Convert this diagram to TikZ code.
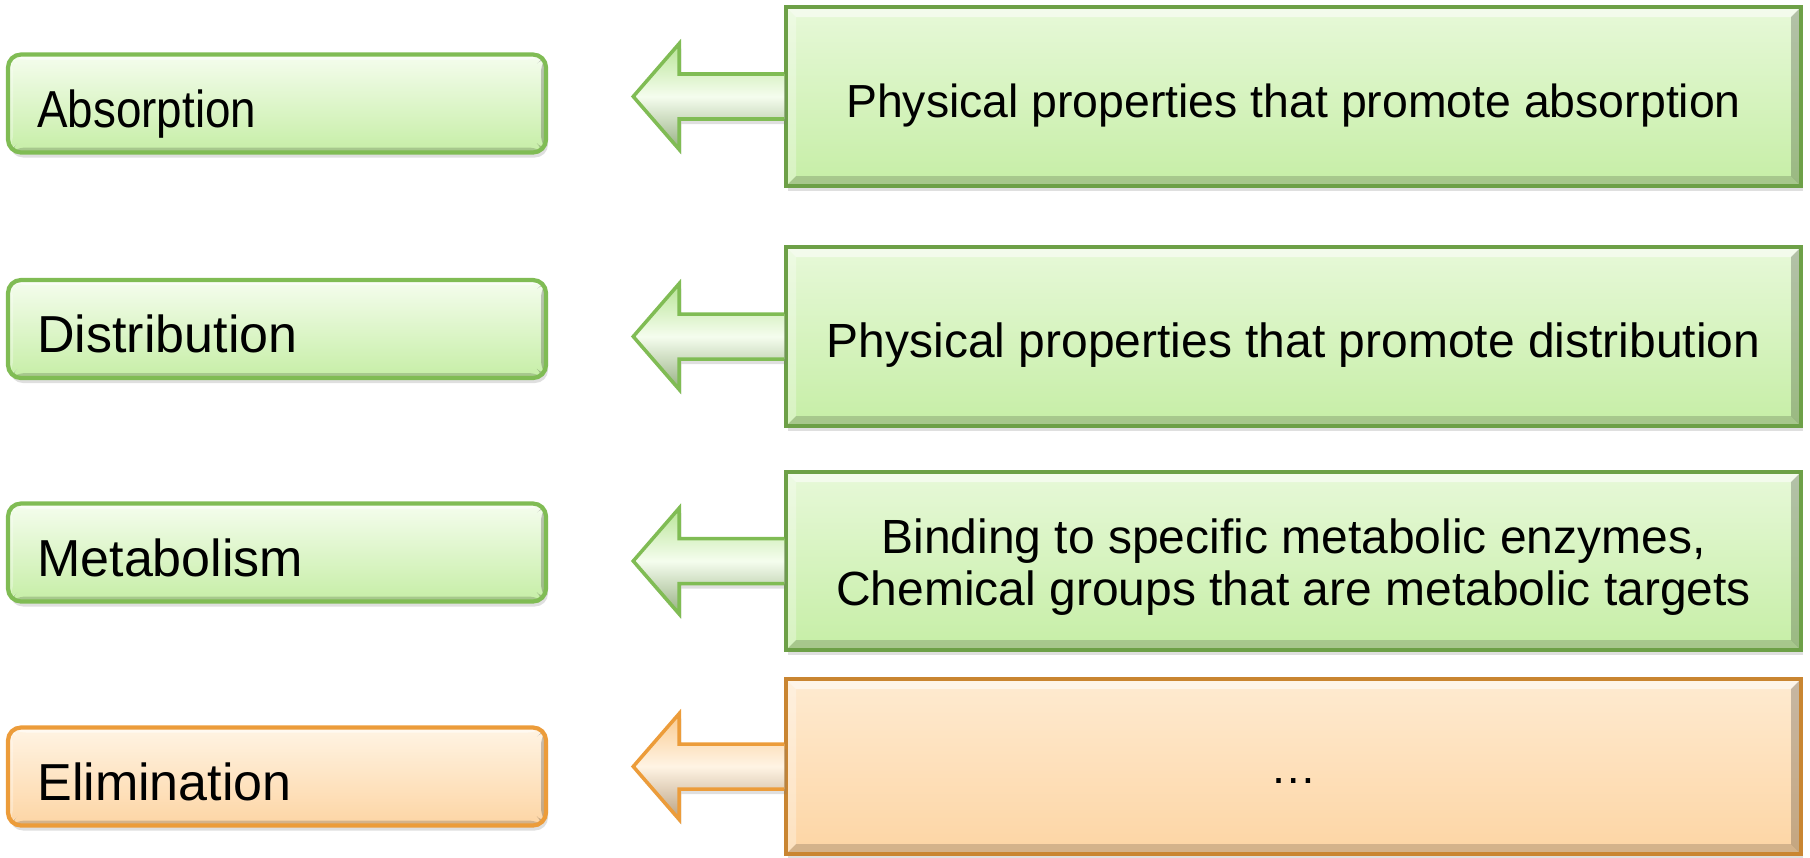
\documentclass[tikz,border=0pt]{standalone}
\usepackage{fontspec}
\setsansfont{Liberation Sans}
\RequirePackage{xcolor}
\definecolor{leafline}{RGB}{128,188,84}
\definecolor{leaftop}{RGB}{245,253,238}
\definecolor{leafbot}{RGB}{198,238,166}
\definecolor{peachline}{RGB}{236,156,58}
\definecolor{peachtop}{RGB}{255,244,228}
\definecolor{peachbot}{RGB}{253,213,164}
\tikzset{every picture/.style={/utils/exec={\sffamily}}}
\usetikzlibrary{calc}
\usetikzlibrary{positioning,shadows}
\tikzset{
  bevel/.style={path picture={
    \fill[white,opacity=0.55] (path picture bounding box.north west) -- (path picture bounding box.north east)
      -- ([xshift=-#1,yshift=-#1]path picture bounding box.north east) -- ([xshift=#1,yshift=-#1]path picture bounding box.north west) -- cycle;
    \fill[white,opacity=0.3] (path picture bounding box.north west) -- ([xshift=#1,yshift=-#1]path picture bounding box.north west)
      -- ([xshift=#1,yshift=#1]path picture bounding box.south west) -- (path picture bounding box.south west) -- cycle;
    \fill[black,opacity=0.16] (path picture bounding box.south west) -- ([xshift=#1,yshift=#1]path picture bounding box.south west)
      -- ([xshift=-#1,yshift=#1]path picture bounding box.south east) -- (path picture bounding box.south east) -- cycle;
    \fill[black,opacity=0.22] (path picture bounding box.south east) -- ([xshift=-#1,yshift=#1]path picture bounding box.south east)
      -- ([xshift=-#1,yshift=-#1]path picture bounding box.north east) -- (path picture bounding box.north east) -- cycle;
  }},
  softshadow/.style={drop shadow={shadow xshift=0.02cm, shadow yshift=-0.05cm, opacity=0.25}},
  phasebox/.style={draw=#1line, line width=1.2pt, rounded corners=0.13cm, minimum width=5.38cm, minimum height=0.98cm,
    top color=#1top, bottom color=#1bot, softshadow, bevel=0.05cm},
  stagebox/.style={draw=#1line!85!black, line width=1pt, minimum width=10.15cm,
    top color=#1top!70!#1bot, bottom color=#1bot, softshadow, bevel=0.1cm},
  feedarrow/.style={draw=#1line, line width=1pt, top color=#1bot!80!#1line, bottom color=#1bot!70!black!90,
    middle color=#1top, softshadow},
  phasetext/.style={anchor=base west, font=\fontsize{14.8}{17}\selectfont},
  stagetext/.style={align=center, font=\fontsize{13.2}{14.8}\selectfont}
}

\begin{document}
\begin{tikzpicture}
  \useasboundingbox (0,0) rectangle (18.10,-8.57);

  % ADME phases
  \node[phasebox=leaf]  (lA) at (2.77,-1.035) {};
  \node[phasebox=leaf]  (lD) at (2.77,-3.29) {};
  \node[phasebox=leaf]  (lM) at (2.77,-5.525) {};
  \node[phasebox=peach] (lE) at (2.77,-7.765) {};

  \node[phasetext] (tA) at ([xshift=0.19cm,yshift=-0.235cm]lA.west) {\scalebox{0.88}[1]{Absorption}};
  \node[phasetext] (tD) at ([xshift=0.19cm,yshift=-0.235cm]lD.west) {Distribution};
  \node[phasetext] (tM) at ([xshift=0.19cm,yshift=-0.235cm]lM.west) {Metabolism};
  \node[phasetext] (tE) at ([xshift=0.19cm,yshift=-0.235cm]lE.west) {Elimination};

  % properties
  \node[stagebox=leaf, minimum height=1.79cm]  (rA) at (12.935,-0.965) {};
  \node[stagebox=leaf, minimum height=1.79cm]  (rD) at (12.935,-3.365) {};
  \node[stagebox=leaf, minimum height=1.78cm]  (rM) at (12.935,-5.61) {};
  \node[stagebox=peach, minimum height=1.75cm] (rE) at (12.935,-7.665) {};

  \node[stagetext, anchor=base] (sA) at ([yshift=-0.21cm]rA.center) {Physical properties that promote absorption};
  \node[stagetext, anchor=base, font=\fontsize{13.65}{14.8}\selectfont] (sD) at ([yshift=-0.21cm]rD.center) {Physical properties that promote distribution};
  \node[stagetext, font=\fontsize{13.65}{14.8}\selectfont] (sM) at ([yshift=-0.065cm]rM.center) {Binding to specific metabolic enzymes,\\Chemical groups that are metabolic targets};
  \node[stagetext, anchor=base] (sE) at ([yshift=-0.17cm]rE.center) {…};

  % block arrows
  \draw[feedarrow=leaf] ([yshift=0.225cm]rA.west) -- ++(-1.05,0) -- ++(0,0.305) -- ++(-0.46,-0.53) -- ++(0.46,-0.53) -- ++(0,0.305) -- ++(1.05,0);
  \draw[feedarrow=leaf] ([yshift=0.225cm]rD.west) -- ++(-1.05,0) -- ++(0,0.305) -- ++(-0.46,-0.53) -- ++(0.46,-0.53) -- ++(0,0.305) -- ++(1.05,0);
  \draw[feedarrow=leaf] ([yshift=0.225cm]rM.west) -- ++(-1.05,0) -- ++(0,0.305) -- ++(-0.46,-0.53) -- ++(0.46,-0.53) -- ++(0,0.305) -- ++(1.05,0);
  \draw[feedarrow=peach] ([yshift=0.225cm]rE.west) -- ++(-1.05,0) -- ++(0,0.305) -- ++(-0.46,-0.53) -- ++(0.46,-0.53) -- ++(0,0.305) -- ++(1.05,0);

\end{tikzpicture}
\end{document}
